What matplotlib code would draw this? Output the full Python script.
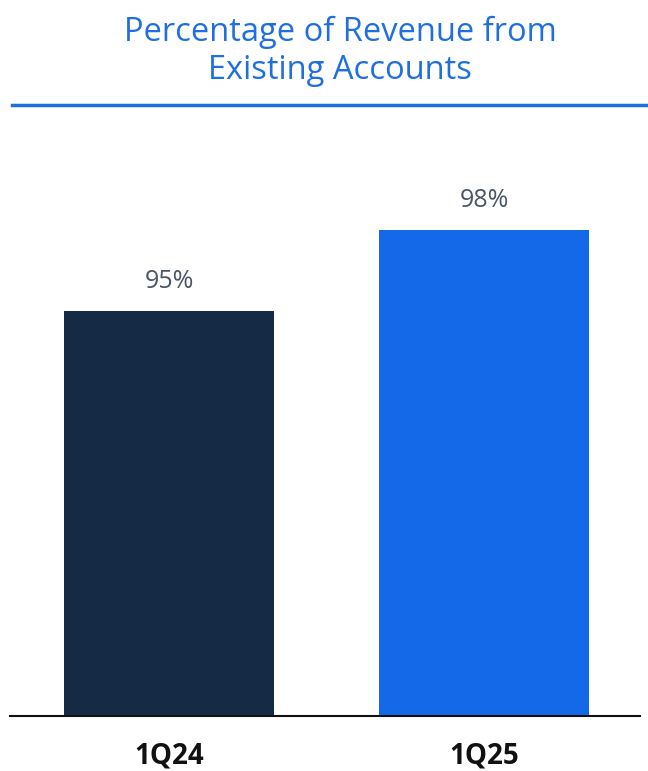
import matplotlib.pyplot as plt
from matplotlib.lines import Line2D

quarters = ['1Q24', '1Q25']
pct_existing = [95, 98]
bar_colors = ['#152b45', '#1469e8']

W, H = 648, 771
fig = plt.figure(figsize=(W / 100, H / 100), dpi=100)
plt.rcParams['font.family'] = ['Open Sans', 'DejaVu Sans']

ax = fig.add_axes([10 / W, 1 - 716 / H, 630 / W, (716 - 149) / H])
bars = ax.bar(range(len(quarters)), pct_existing, width=0.667, color=bar_colors)
ax.set_ylim(80, 101)
ax.set_xlim(-0.505, 1.495)

for b, v in zip(bars, pct_existing):
    ax.annotate(f'{v}%', (b.get_x() + b.get_width() / 2, v), xytext=(0, 12),
                textcoords='offset points', ha='center', va='bottom',
                fontsize=18, color='#4b5563')

for s in ['top', 'right', 'left']:
    ax.spines[s].set_visible(False)
ax.spines['bottom'].set_linewidth(1.5)
ax.spines['bottom'].set_color('#111111')
ax.set_yticks([])
ax.set_xticks(range(len(quarters)))
ax.set_xticklabels(quarters, fontsize=20, fontweight='bold', color='#111111')
ax.tick_params(axis='x', length=0, pad=18)

fig.text(340 / W, 1 - 51 / H, 'Percentage of Revenue from\nExisting Accounts',
         ha='center', va='center', fontsize=23.5, color='#1f6fe0', linespacing=1.2)
fig.add_artist(Line2D([12 / W, 1.0], [1 - 105 / H, 1 - 105 / H],
                      color='#1f6fe0', linewidth=2.5))

fig.savefig('out.png', dpi=100)
